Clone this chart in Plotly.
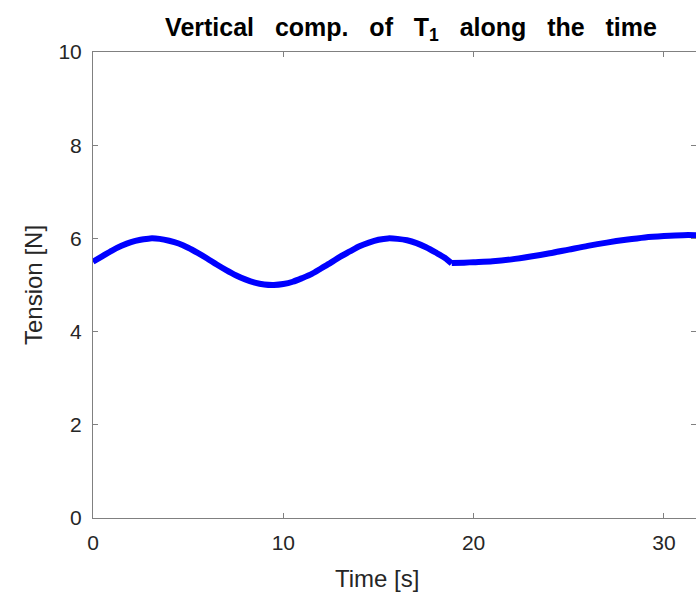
import plotly.graph_objects as go

# Segment 1 (oscillating phase)
t1 = [0, 0.5, 1, 1.5, 2, 2.5, 3, 3.5, 4, 4.5, 5, 5.5, 6, 6.5, 7, 7.5, 8, 8.5, 9, 9.5,
      10, 10.5, 11, 11.5, 12, 12.5, 13, 13.5, 14, 14.5, 15, 15.5, 16, 16.5, 17, 17.5,
      18, 18.5, 18.85]
v1 = [5.50, 5.62, 5.74, 5.84, 5.92, 5.97, 6.00, 5.99, 5.95, 5.89, 5.80, 5.69, 5.57,
      5.44, 5.32, 5.21, 5.12, 5.05, 5.01, 5.00, 5.02, 5.07, 5.15, 5.24, 5.36, 5.48,
      5.61, 5.72, 5.83, 5.91, 5.97, 6.00, 5.99, 5.96, 5.90, 5.81, 5.70, 5.58, 5.46]
# Segment 2 (slow rise)
t2 = [18.85, 19.5, 20, 21, 22, 23, 24, 25, 26, 27, 28, 29, 30, 31, 31.7]
v2 = [5.47, 5.48, 5.49, 5.51, 5.55, 5.61, 5.68, 5.76, 5.84, 5.91, 5.97, 6.02, 6.05, 6.07, 6.07]

x_ticks = [0, 10, 20, 30]
y_ticks = [0, 2, 4, 6, 8, 10]

W, H = 696, 597
L, T, B, R = 93, 52, 79, 0
pw, ph = W - L - R, H - T - B
FONT = "Liberation Sans, Arial"

fig = go.Figure()
for tx, vy in ((t1, v1), (t2, v2)):
    fig.add_trace(go.Scatter(x=tx, y=vy, mode="lines",
                             line=dict(color="#0000ff", width=6, shape="spline", smoothing=0.8),
                             showlegend=False))

axis_common = dict(showgrid=False, zeroline=False, showline=True, linecolor="#808080",
                   linewidth=1, ticks="inside", ticklen=5, tickcolor="#808080",
                   mirror="ticks",
                   tickfont=dict(family=FONT, size=21, color="#262626"))
fig.update_xaxes(range=[0, pw / 19.03], tickvals=x_ticks, ticklabelstandoff=6, **axis_common)
fig.update_yaxes(range=[0, 10], tickvals=y_ticks, ticklabelstandoff=6, **axis_common)

gap = "&nbsp;" * 2 + " "
title_txt = gap.join(["Vertical", "comp.", "of", "T<sub>1</sub>", "along", "the", "time"])

fig.update_layout(
    width=W, height=H, margin=dict(l=L, r=R, t=T, b=B),
    plot_bgcolor="white", paper_bgcolor="white",
    title=dict(text="<b>" + title_txt + "</b>",
               x=411 / W, xanchor="center", xref="container",
               y=1 - 27 / H, yanchor="middle", yref="container",
               font=dict(family=FONT, size=25, color="black")),
    annotations=[
        dict(text="Time [s]", xref="paper", yref="paper",
             x=(377 - L) / pw, y=(518 - 578) / ph, xanchor="center", yanchor="middle",
             showarrow=False, font=dict(family=FONT, size=24, color="#262626")),
        dict(text="Tension [N]", xref="paper", yref="paper", textangle=-90,
             x=(33 - L) / pw, y=(518 - 285) / ph, xanchor="center", yanchor="middle",
             showarrow=False, font=dict(family=FONT, size=24, color="#262626")),
    ],
)

fig.write_html("out.html")
